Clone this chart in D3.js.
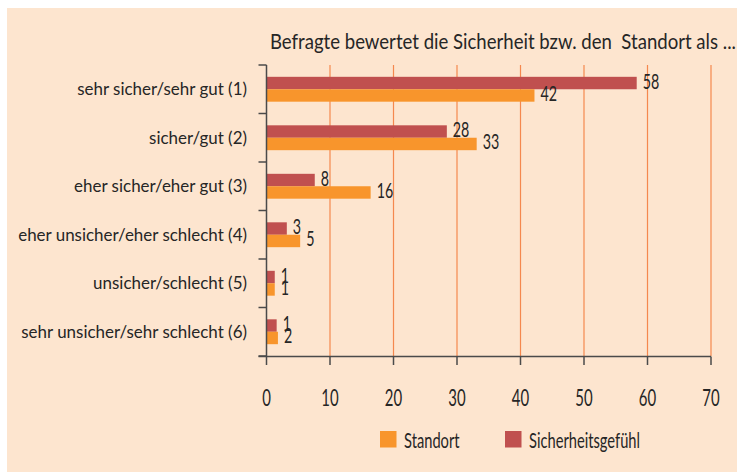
<!DOCTYPE html>
<html>
<head>
<meta charset="utf-8">
<script src="https://cdn.jsdelivr.net/npm/d3@7"></script>
<style>
  html, body { margin: 0; padding: 0; background: #ffffff; }
  svg { display: block; }
  text { font-family: Lato, "Open Sans", sans-serif; fill: #262626; white-space: pre; }
</style>
</head>
<body>
<svg id="chart" width="737" height="472"></svg>
<script>
// ---- data ----
const categories = [
  "sehr sicher/sehr gut (1)",
  "sicher/gut (2)",
  "eher sicher/eher gut (3)",
  "eher unsicher/eher schlecht (4)",
  "unsicher/schlecht (5)",
  "sehr unsicher/sehr schlecht (6)"
];
const sicherheitsgefuehl = [58.3, 28.4, 7.6, 3.2, 1.3, 1.6];
const sicherheitsgefuehlLabels = ["58", "28", "8", "3", "1", "1"];
const standort = [42.2, 33.1, 16.4, 5.3, 1.3, 1.8];
const standortLabels = ["42", "33", "16", "5", "1", "2"];
const xTicks = [0, 10, 20, 30, 40, 50, 60, 70];
const seriesNames = ["Standort", "Sicherheitsgefühl"];
const titleText = "Befragte bewertet die Sicherheit bzw. den  Standort als ...";

// ---- styles ----
const C_RED = "#c0504f";
const C_ORANGE = "#f8952c";
const C_BG = "#fde5cf";
const C_GRID = "#f5884e";
const C_AXIS = "#4a4a4a";

const svg = d3.select("#chart");

// background panel
svg.append("rect").attr("x", 7).attr("y", 8).attr("width", 730).attr("height", 464).attr("fill", C_BG);

const x = d3.scaleLinear().domain([0, 70]).range([266.5, 711]);
const y = d3.scaleBand().domain(categories).range([65, 356]);
const inner = d3.scaleBand().domain(["s", "o"]).range([0, y.bandwidth()]).paddingOuter(0.95).paddingInner(0);

function label(g, txt, px, py, size, sx, anchor) {
  return g.append("text")
    .attr("transform", `translate(${px},${py}) scale(${sx},1)`)
    .attr("text-anchor", anchor || "start")
    .style("font-size", size + "px")
    .text(txt);
}

// title
label(svg, titleText, 270, 49, 21, 0.885, "start");

// gridlines
svg.append("g").selectAll("line").data(xTicks.filter(d => d > 0)).join("line")
  .attr("x1", d => x(d)).attr("x2", d => x(d))
  .attr("y1", 65).attr("y2", 356)
  .attr("stroke", C_GRID).attr("stroke-width", 1.2);

// bars
const rows = svg.append("g").selectAll("g").data(categories).join("g")
  .attr("transform", d => `translate(0,${y(d)})`);

rows.append("rect")
  .attr("x", x(0)).attr("y", inner("s"))
  .attr("width", (d, i) => x(sicherheitsgefuehl[i]) - x(0))
  .attr("height", inner.bandwidth())
  .attr("fill", C_RED);

rows.append("rect")
  .attr("x", x(0)).attr("y", inner("o"))
  .attr("width", (d, i) => x(standort[i]) - x(0))
  .attr("height", inner.bandwidth())
  .attr("fill", C_ORANGE);

// value labels
categories.forEach((c, i) => {
  const yS = y(c) + inner("s") + inner.bandwidth() / 2;
  const yO = y(c) + inner("o") + inner.bandwidth() / 2;
  label(svg, sicherheitsgefuehlLabels[i], x(sicherheitsgefuehl[i]) + 6, yS + 5.5, 21, 0.68, "start");
  label(svg, standortLabels[i], x(standort[i]) + 6, yO + 5.5, 21, 0.68, "start");
});

// left axis
const yAxisG = svg.append("g");
yAxisG.append("line").attr("x1", x(0)).attr("x2", x(0)).attr("y1", 65).attr("y2", 357)
  .attr("stroke", C_AXIS).attr("stroke-width", 1.5);
const boundaries = categories.map(c => y(c)).concat([y.range()[1]]);
yAxisG.selectAll("line.t").data(boundaries).join("line").attr("class", "t")
  .attr("x1", x(0) - 8).attr("x2", x(0)).attr("y1", d => d).attr("y2", d => d)
  .attr("stroke", C_AXIS).attr("stroke-width", 1.5);
categories.forEach(c => {
  label(yAxisG, c, 247, y(c) + y.bandwidth() / 2 + 6, 17.5, 0.97, "end");
});

// bottom axis
const xAxisG = svg.append("g");
xAxisG.append("line").attr("x1", x(0) - 8).attr("x2", x(70)).attr("y1", 356.5).attr("y2", 356.5)
  .attr("stroke", C_AXIS).attr("stroke-width", 1.5);
xAxisG.selectAll("line.t").data(xTicks).join("line").attr("class", "t")
  .attr("x1", d => x(d)).attr("x2", d => x(d)).attr("y1", 356.5).attr("y2", 365)
  .attr("stroke", C_AXIS).attr("stroke-width", 1.5);
xTicks.forEach(t => label(xAxisG, String(t), x(t), 406, 23, 0.65, "middle"));

// legend
const legend = svg.append("g");
const legendColors = [C_ORANGE, C_RED];
const legendX = [380, 505];
seriesNames.forEach((n, i) => {
  legend.append("rect").attr("x", legendX[i]).attr("y", 431).attr("width", 16.5).attr("height", 16.5).attr("fill", legendColors[i]);
  label(legend, n, legendX[i] + 24, 447.5, 21, 0.7, "start");
});
</script>
</body>
</html>
